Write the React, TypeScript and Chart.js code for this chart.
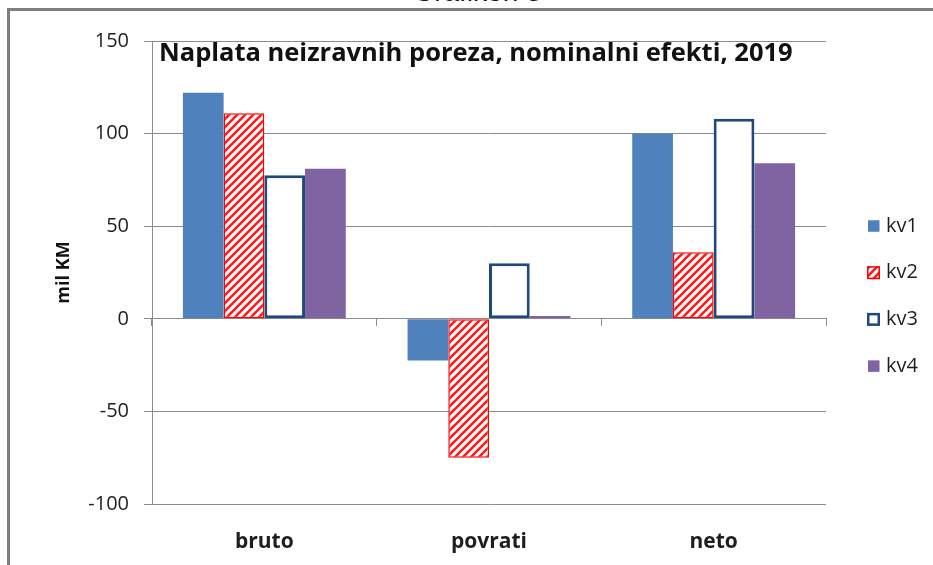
import React, { useEffect, useRef } from "react";
import { Chart, registerables } from "chart.js";

Chart.register(...registerables);

const pageTitle = "Grafikon 3";
const chartTitle = "Naplata neizravnih poreza, nominalni efekti, 2019";
const yAxisTitle = "mil KM";
const categories = ["bruto", "povrati", "neto"];
const seriesNames = ["kv1", "kv2", "kv3", "kv4"];
const kv1 = [122, -22.5, 100];
const kv2 = [111, -75, 36];
const kv3 = [77.5, 30, 108];
const kv4 = [81, 1.5, 84];
const yMin = -100;
const yMax = 150;
const yStep = 50;

const FONT = "'Open Sans', 'DejaVu Sans', sans-serif";
const GRID = "#8c8c8c";
const TEXT = "#1e1e1e";

function makeHatch(): CanvasPattern | string {
  const c = document.createElement("canvas");
  c.width = 8;
  c.height = 8;
  const g = c.getContext("2d");
  if (!g) return "#ff0000";
  g.fillStyle = "#ffffff";
  g.fillRect(0, 0, 8, 8);
  g.strokeStyle = "#ff1a1a";
  g.lineWidth = 2.6;
  g.lineCap = "square";
  g.beginPath();
  g.moveTo(-2, 10);
  g.lineTo(10, -2);
  g.moveTo(-6, 6);
  g.lineTo(6, -6);
  g.moveTo(2, 14);
  g.lineTo(14, 2);
  g.stroke();
  const p = g.createPattern(c, "repeat");
  return p || "#ff0000";
}

const titlePlugin = {
  id: "innerTitle",
  afterDraw(chart: any) {
    const { ctx, chartArea } = chart;
    ctx.save();
    ctx.font = `bold 25.5px ${FONT}`;
    ctx.fillStyle = "#111";
    ctx.textBaseline = "alphabetic";
    ctx.textAlign = "left";
    ctx.fillText(chartTitle, chartArea.left + 7, chartArea.top + 20);
    ctx.restore();
  },
};

const legendPlugin = {
  id: "sideLegend",
  afterDraw(chart: any) {
    const { ctx, chartArea } = chart;
    const bx = chartArea.right + 42;
    const y0 = 226;
    const step = 46.7;
    ctx.save();
    chart.data.datasets.forEach((ds: any, i: number) => {
      const cy = y0 + i * step;
      const bw = ds.borderWidth || 0;
      const size = bw > 0 ? 13 : 11.5;
      const x = bx + (bw > 0 ? -1 : 0);
      const y = cy - size / 2;
      ctx.fillStyle = ds.backgroundColor;
      ctx.fillRect(x, y, size, size);
      if (bw > 0) {
        ctx.strokeStyle = ds.borderColor;
        ctx.lineWidth = Math.min(bw, 2.5);
        ctx.strokeRect(x + ctx.lineWidth / 2, y + ctx.lineWidth / 2, size - ctx.lineWidth, size - ctx.lineWidth);
      }
      ctx.font = `20px ${FONT}`;
      ctx.fillStyle = TEXT;
      ctx.textBaseline = "middle";
      ctx.textAlign = "left";
      ctx.fillText(ds.label, bx + 18, cy);
    });
    ctx.restore();
  },
};

export default function App() {
  const ref = useRef<HTMLCanvasElement | null>(null);

  useEffect(() => {
    if (!ref.current) return;
    const hatch = makeHatch();
    const chart = new Chart(ref.current, {
      type: "bar",
      data: {
        labels: categories,
        datasets: [
          {
            label: seriesNames[0],
            data: kv1,
            backgroundColor: "#4f81bd",
            borderWidth: 0,
          },
          {
            label: seriesNames[1],
            data: kv2,
            backgroundColor: hatch as any,
            borderColor: "#ff0000",
            borderWidth: 1.5,
            borderSkipped: false,
          },
          {
            label: seriesNames[2],
            data: kv3,
            backgroundColor: "#ffffff",
            borderColor: "#1f497d",
            borderWidth: 3,
            borderSkipped: false,
          },
          {
            label: seriesNames[3],
            data: kv4,
            backgroundColor: "#8064a2",
            borderWidth: 0,
          },
        ],
      },
      options: {
        responsive: false,
        animation: false,
        devicePixelRatio: 1,
        layout: { padding: { left: 53, right: 107, top: 41, bottom: 0 } },
        datasets: {
          bar: { barPercentage: 1, categoryPercentage: 0.725 },
        },
        plugins: {
          legend: { display: false },
          title: { display: false },
          tooltip: { enabled: false },
        },
        scales: {
          x: {
            type: "category",
            position: "bottom",
            grid: { display: false, drawTicks: false },
            border: { display: false },
            ticks: {
              padding: 25,
              color: TEXT,
              font: { family: FONT, size: 21, weight: "bold" },
              maxRotation: 0,
            },
            afterFit: (s: any) => {
              s.height = 61;
            },
          },
          x2: {
            type: "category",
            labels: categories,
            position: { y: 0 } as any,
            grid: {
              display: true,
              drawOnChartArea: false,
              drawTicks: true,
              tickLength: 7,
              color: GRID,
              offset: true,
            },
            border: { display: true, color: GRID },
            ticks: { display: false },
          },
          y: {
            min: yMin,
            max: yMax,
            ticks: {
              stepSize: yStep,
              padding: 15,
              color: TEXT,
              font: { family: FONT, size: 20 },
            },
            grid: { color: GRID, lineWidth: 1, tickLength: 8, drawTicks: true },
            border: { display: true, color: GRID },
            title: {
              display: true,
              text: yAxisTitle,
              color: "#111",
              font: { family: FONT, size: 18, weight: "bold" },
              padding: { top: 0, bottom: 0 },
            },
            afterFit: (s: any) => {
              s.width = 99;
            },
          },
        },
      },
      plugins: [titlePlugin, legendPlugin],
    } as any);
    return () => chart.destroy();
  }, []);

  return (
    <div
      style={{
        position: "absolute",
        left: 0,
        top: 0,
        width: 933,
        height: 565,
        overflow: "hidden",
        background: "#ffffff",
      }}
    >
      <div
        style={{
          position: "absolute",
          left: 377,
          top: -22,
          width: 200,
          textAlign: "center",
          fontFamily: "'Liberation Sans', Arial, sans-serif",
          fontSize: 28,
          lineHeight: "28px",
          color: "#111",
          whiteSpace: "nowrap",
        }}
      >
        {pageTitle}
      </div>
      <div
        style={{
          position: "absolute",
          left: 7,
          top: 8,
          width: 960,
          height: 600,
          borderTop: "3px solid #7f7f7f",
          borderLeft: "3px solid #7f7f7f",
          boxSizing: "border-box",
        }}
      />
      <canvas
        ref={ref}
        width={933}
        height={565}
        style={{ position: "absolute", left: 0, top: 0, width: 933, height: 565 }}
      />
    </div>
  );
}
